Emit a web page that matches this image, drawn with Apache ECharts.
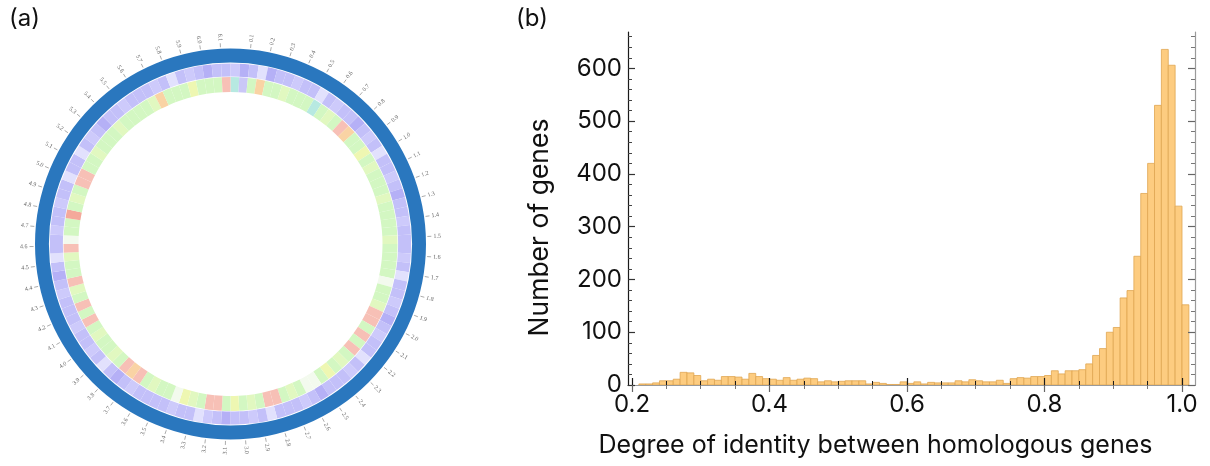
<!DOCTYPE html>
<html><head><meta charset="utf-8">
<script src="https://cdn.jsdelivr.net/npm/echarts@6/dist/echarts.min.js"></script>
<style>html,body{margin:0;padding:0;background:#fff}#c{width:1210px;height:466px}</style>
</head><body><div id="c"></div>
<script>
// ---------- (b) histogram data ----------
const binStarts = [0.21,0.22,0.23,0.24,0.25,0.26,0.27,0.28,0.29,0.30,
  0.31,0.32,0.33,0.34,0.35,0.36,0.37,0.38,0.39,0.40,
  0.41,0.42,0.43,0.44,0.45,0.46,0.47,0.48,0.49,0.50,
  0.51,0.52,0.53,0.54,0.55,0.56,0.57,0.58,0.59,0.60,
  0.61,0.62,0.63,0.64,0.65,0.66,0.67,0.68,0.69,0.70,
  0.71,0.72,0.73,0.74,0.75,0.76,0.77,0.78,0.79,0.80,
  0.81,0.82,0.83,0.84,0.85,0.86,0.87,0.88,0.89,0.90,
  0.91,0.92,0.93,0.94,0.95,0.96,0.97,0.98,0.99,1.00];
const geneCounts = [2,2,4,8,8,11,24,23,18,8,
  11,9,16,16,15,11,22,16,12,11,
  9,14,9,11,13,12,6,8,6,7,
  8,8,8,2,5,3,1,1,6,3,
  6,2,5,4,4,4,8,6,10,8,
  6,6,9,3,12,14,13,16,16,18,
  27,21,27,27,29,40,56,69,100,109,
  165,179,244,363,420,530,636,606,339,152];
const binWidth = 0.01;
const xTickValues = [0.2,0.4,0.6,0.8,1.0];
const xTickLabels = ['0.2','0.4','0.6','0.8','1.0'];
const xMinorTickValues = [0.25,0.3,0.35,0.45,0.5,0.55,0.65,0.7,0.75,0.85,0.9,0.95];
const yTickValues = [0,100,200,300,400,500,600];
const yTickLabels = ['0','100','200','300','400','500','600'];
const yMinorTickValues = [20,40,60,80,120,140,160,180,220,240,260,280,320,340,360,380,
  420,440,460,480,520,540,560,580,620,640,660];
const xAxisTitle = 'Degree of identity between homologous genes';
const yAxisTitle = 'Number of genes';

// ---------- (a) circular genome map data ----------
const genomeLength = 6.15;
const genomeTickValues = [0.1,0.2,0.3,0.4,0.5,0.6,0.7,0.8,0.9,1.0,1.1,1.2,1.3,1.4,1.5,1.6,1.7,1.8,1.9,2.0,
  2.1,2.2,2.3,2.4,2.5,2.6,2.7,2.8,2.9,3.0,3.1,3.2,3.3,3.4,3.5,3.6,3.7,3.8,3.9,4.0,
  4.1,4.2,4.3,4.4,4.5,4.6,4.7,4.8,4.9,5.0,5.1,5.2,5.3,5.4,5.5,5.6,5.7,5.8,5.9,6.0,6.1];
const genomeTickLabels = ['0.1','0.2','0.3','0.4','0.5','0.6','0.7','0.8','0.9','1.0','1.1','1.2','1.3','1.4','1.5','1.6','1.7','1.8','1.9','2.0',
  '2.1','2.2','2.3','2.4','2.5','2.6','2.7','2.8','2.9','3.0','3.1','3.2','3.3','3.4','3.5','3.6','3.7','3.8','3.9','4.0',
  '4.1','4.2','4.3','4.4','4.5','4.6','4.7','4.8','4.9','5.0','5.1','5.2','5.3','5.4','5.5','5.6','5.7','5.8','5.9','6.0','6.1'];
// inner track (identity classes) per segment, clockwise from top
const identityTrack = 'cvgogghggg' + 'cghgroggyg' + 'hggghggggh' + 'ggggwgghrr' +
  'grgrghgygw' + 'wghgrrghgy' + 'grrghywggh' + 'grorghgghg' +
  'rgrghrgghr' + 'wggRghgrrg' + 'ghggghgggg' + 'hogggygggr';
// middle track (genes) per segment
const geneTrack = 'qdpwdppqpp' + 'wpqppdpqpw' + 'ppqpdppqpp' + 'pqpwppqpdp' +
  'qppwpqpppd' + 'pqpppwpqpp' + 'dpqwppqppp' + 'pqpdpwpqpp' +
  'qpppqpdpwp' + 'pqppqppwpp' + 'wpqpdppqpp' + 'pqpwpqpdpp';

const identityColors = {g:'#d3f7c2', h:'#e1f8c0', y:'#eef7b2', o:'#f9d3a4', r:'#f7c0b6', R:'#f4a99b', c:'#b7e9e1', w:'#f3faee', v:'#cac7f7'};
const geneColors = {p:'#c3c0f9', q:'#cdcafb', d:'#b5b0f6', w:'#e2e1fd'};

const FONT = 'Inter, "Liberation Sans", Arial, sans-serif';
const CX = 230.5, CY = 244;

const segIdx = identityTrack.split('').map((_, i) => String(i));

const chart = echarts.init(document.getElementById('c'), null, {renderer: 'canvas'});

function hiddenAxis(extra) {
  return Object.assign({axisLine:{show:false}, axisTick:{show:false}, axisLabel:{show:false}, splitLine:{show:false}, splitArea:{show:false}}, extra);
}

const option = {
  animation: false,
  backgroundColor: '#ffffff',
  textStyle: {fontFamily: FONT},
  graphic: [
    {type:'text', left: 9, top: 7, style:{text:'(a)', fontSize: 24, fontFamily: FONT, fill:'#111'}},
    {type:'text', left: 516, top: 7, style:{text:'(b)', fontSize: 24, fontFamily: FONT, fill:'#111'}}
  ],
  polar: [
    {center:[CX, CY], radius:[152, 167]},
    {center:[CX, CY], radius:[167.6, 180.6]},
    {center:[CX, CY], radius:[0, 230]}
  ],
  angleAxis: [
    hiddenAxis({polarIndex:0, type:'category', data: segIdx, startAngle: 90, clockwise: true, boundaryGap: true}),
    hiddenAxis({polarIndex:1, type:'category', data: segIdx, startAngle: 90, clockwise: true, boundaryGap: true}),
    hiddenAxis({polarIndex:2, type:'value', min: 0, max: genomeLength, startAngle: 90, clockwise: true})
  ],
  radiusAxis: [
    hiddenAxis({polarIndex:0, type:'value', min:0, max:1}),
    hiddenAxis({polarIndex:1, type:'value', min:0, max:1}),
    hiddenAxis({polarIndex:2, type:'value', min:0, max:230})
  ],
  grid: {left: 628, right: 15, top: 32, bottom: 81, containLabel: false},
  xAxis: [
    {gridIndex:0, type:'value', position:'bottom', min:0.1942, max:1.0189, z: 5,
     axisLine:{show:true, lineStyle:{color:'#1a1a1a', width:1.2}},
     axisTick:{show:true, inside:true, length:7, customValues: xTickValues, lineStyle:{color:'#1a1a1a', width:1.2}},
     axisLabel:{show:true, customValues: xTickValues, fontSize: 24, color:'#111', margin: 8, fontFamily: FONT,
       formatter: v => xTickLabels[xTickValues.findIndex(t => Math.abs(t - v) < 1e-6)] || ''},
     splitLine:{show:false},
     name: xAxisTitle, nameLocation:'middle', nameGap: 48,
     nameTextStyle:{fontSize: 25, color:'#111', fontFamily: FONT, padding:[0, 72, 0, 0]}},
    {gridIndex:0, type:'value', position:'bottom', min:0.1942, max:1.0189, z: 5,
     axisLine:{show:false},
     axisTick:{show:true, inside:true, length:4, customValues: xMinorTickValues, lineStyle:{color:'#1a1a1a', width:1}},
     axisLabel:{show:false}, splitLine:{show:false}},
    {gridIndex:0, type:'value', position:'top', min:0.1942, max:1.0189, z: 5,
     axisLine:{show:true, lineStyle:{color:'#9a9a9a', width:1.2}},
     axisTick:{show:true, inside:true, length:7, customValues: xTickValues, lineStyle:{color:'#666', width:1.2}},
     axisLabel:{show:false}, splitLine:{show:false}},
    {gridIndex:0, type:'value', position:'top', min:0.1942, max:1.0189, z: 5,
     axisLine:{show:false},
     axisTick:{show:true, inside:true, length:4, customValues: xMinorTickValues, lineStyle:{color:'#777', width:1}},
     axisLabel:{show:false}, splitLine:{show:false}}
  ],
  yAxis: [
    {gridIndex:0, type:'value', position:'left', min:0, max:669, z: 5,
     axisLine:{show:true, lineStyle:{color:'#1a1a1a', width:1.2}},
     axisTick:{show:true, inside:true, length:7, customValues: yTickValues, lineStyle:{color:'#333', width:1.2}},
     axisLabel:{show:true, customValues: yTickValues, fontSize: 24, color:'#111', margin: 6, fontFamily: FONT,
       formatter: v => yTickLabels[yTickValues.indexOf(Math.round(v))] || ''},
     splitLine:{show:false},
     name: yAxisTitle, nameLocation:'middle', nameRotate: 90, nameGap: 74,
     nameTextStyle:{fontSize: 26.5, color:'#111', fontFamily: FONT, padding:[0, 38, 0, 0]}},
    {gridIndex:0, type:'value', position:'left', min:0, max:669, z: 5,
     axisLine:{show:false},
     axisTick:{show:true, inside:true, length:4, customValues: yMinorTickValues, lineStyle:{color:'#444', width:1}},
     axisLabel:{show:false}, splitLine:{show:false}},
    {gridIndex:0, type:'value', position:'right', min:0, max:669, z: 5,
     axisLine:{show:true, lineStyle:{color:'#9a9a9a', width:1.2}},
     axisTick:{show:true, inside:true, length:7, customValues: yTickValues, lineStyle:{color:'#666', width:1.2}},
     axisLabel:{show:false}, splitLine:{show:false}},
    {gridIndex:0, type:'value', position:'right', min:0, max:669, z: 5,
     axisLine:{show:false},
     axisTick:{show:true, inside:true, length:4, customValues: yMinorTickValues, lineStyle:{color:'#777', width:1}},
     axisLabel:{show:false}, splitLine:{show:false}}
  ],
  series: [
    {
      type: 'custom', name: 'histogram', xAxisIndex: 0, yAxisIndex: 0, z: 2,
      data: binStarts.map((x, i) => [x, geneCounts[i]]),
      renderItem: function (params, api) {
        const a = api.coord([api.value(0), 0]);
        const b = api.coord([api.value(0) + binWidth, api.value(1)]);
        return {type:'rect', shape:{x:a[0], y:b[1], width:b[0]-a[0], height:a[1]-b[1]},
          style:{fill:'#fdcc80', stroke:'#e0a652', lineWidth:0.8}};
      }
    },
    {
      type: 'pie', name: 'genome', center:[CX, CY], radius:[181.6, 195.5], silent: true,
      startAngle: 90, clockwise: true, label:{show:false}, labelLine:{show:false},
      data: [{value: genomeLength, itemStyle:{color:'#2a77be'}}]
    },
    {
      type: 'bar', name: 'identity', coordinateSystem: 'polar', polarIndex: 0,
      barCategoryGap: '0%', barWidth: '100%', silent: true,
      data: identityTrack.split('').map(ch => ({value: 1, itemStyle:{color: identityColors[ch]}}))
    },
    {
      type: 'bar', name: 'genes', coordinateSystem: 'polar', polarIndex: 1,
      barCategoryGap: '0%', barWidth: '100%', silent: true,
      data: geneTrack.split('').map(ch => ({value: 1, itemStyle:{color: geneColors[ch]}}))
    },
    {
      type: 'custom', name: 'genomeTicks', coordinateSystem: 'polar', polarIndex: 2, silent: true,
      data: genomeTickValues.map(v => [203, v]),
      encode: {radius: 0, angle: 1},
      renderItem: function (params, api) {
        const v = api.value(1);
        const p0 = api.coord([197, v]);
        const p1 = api.coord([201, v]);
        const pt = api.coord([203, v]);
        const ang = Math.atan2(pt[1] - CY, pt[0] - CX);
        let rot, align;
        if (pt[0] >= CX - 0.5) { rot = -ang; align = 'left'; }
        else { rot = -(ang - Math.PI); align = 'right'; }
        return {type:'group', children:[
          {type:'line', shape:{x1:p0[0], y1:p0[1], x2:p1[0], y2:p1[1]}, style:{stroke:'#888', lineWidth:0.7}},
          {type:'text', x: pt[0], y: pt[1], rotation: rot,
           style:{text: genomeTickLabels[params.dataIndex], fontSize: 6, fill:'#666', align: align, verticalAlign:'middle', fontFamily: '"Liberation Serif", serif'}}
        ]};
      }
    }
  ]
};
chart.setOption(option);
</script>
</body></html>
